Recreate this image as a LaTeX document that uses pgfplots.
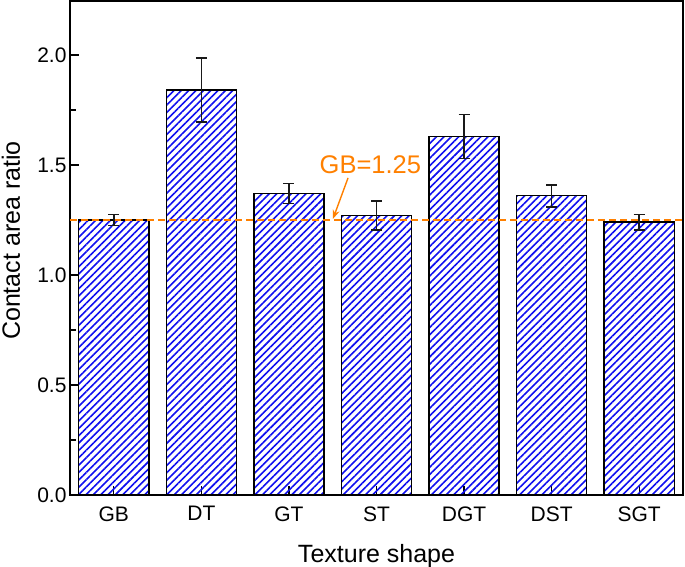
\documentclass[border=0pt]{standalone}
\usepackage{fontspec}
\setmainfont{Liberation Sans}
\usepackage{pgfplots}
\usepackage{pgfplotstable}
\pgfplotsset{compat=1.18}
\usetikzlibrary{patterns.meta,arrows.meta}
\definecolor{hatchblue}{RGB}{15,15,240}
\definecolor{lineorange}{RGB}{255,128,0}

\pgfplotstableread{
x y err
0 1.25 0.025
1 1.84 0.145
2 1.37 0.045
3 1.27 0.065
4 1.63 0.100
5 1.36 0.050
6 1.24 0.035
}\datatable

\begin{document}
\begin{tikzpicture}
\begin{axis}[
  width=613pt, height=494pt, scale only axis,
  xmin=-0.5, xmax=6.5, ymin=0, ymax=2.245,
  xtick={0,...,6}, xticklabels={GB,DT,GT,ST,DGT,DST,SGT},
  ytick={0,0.5,1,1.5,2}, minor ytick={0.25,0.75,1.25,1.75},
  yticklabel style={/pgf/number format/.cd, fixed, fixed zerofill, precision=1},
  /pgf/number format/assume math mode=true,
  tick align=inside, xtick pos=bottom, ytick pos=left,
  major tick length=9pt, minor tick length=6pt,
  every tick/.style={black, line width=1.3pt},
  axis line style={line width=1.5pt},
  ticklabel style={font=\fontsize{21}{25}\selectfont},
  xticklabel style={yshift=-8pt},
  label style={font=\fontsize{25}{30}\selectfont},
  xlabel={Texture shape}, ylabel={Contact area ratio},
  xlabel style={at={(axis description cs:0.5,0)}, anchor=base, yshift=-67pt},
  ylabel style={at={(axis description cs:0,0.515)}, anchor=base, yshift=50pt},
  clip=false,
]
\addplot[ybar, bar width=0.8, bar shift=0pt, draw=black, line width=1.4pt,
  pattern={Lines[angle=45,distance=5.2pt,line width=1.6pt]}, pattern color=hatchblue]
  table[x=x,y=y] {\datatable};
\addplot[lineorange, line width=2.8pt, dash pattern=on 7pt off 4pt] coordinates {(-0.5,1.25) (6.5,1.25)};
\addplot[draw=none, mark=none, error bars/.cd, y dir=both, y explicit,
  error bar style={line width=1.6pt, black!90},
  error mark options={rotate=90, mark size=5.5pt, line width=1.6pt, black!90}]
  table[x=x,y=y,y error=err] {\datatable};
\draw[lineorange, line width=1.4pt, -{Stealth[length=9pt,width=7pt]}] (axis cs:2.675,1.441) -- (axis cs:2.503,1.255);
\node[lineorange, anchor=base, font=\fontsize{25.5}{30}\selectfont, inner sep=0pt] at (axis cs:2.93,1.459) {GB=1.25};
\end{axis}
\pgfresetboundingbox
\path[use as bounding box] ([shift={(-70pt,-71pt)}]current axis.south west) rectangle ([shift={(2pt,1pt)}]current axis.north east);
\end{tikzpicture}
\end{document}
